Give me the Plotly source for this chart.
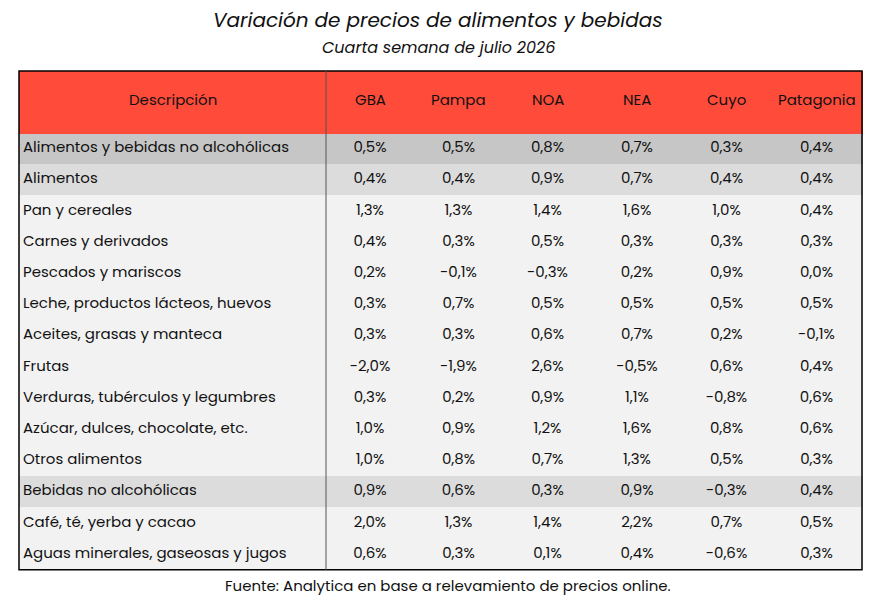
import plotly.graph_objects as go

columns = ["Descripción", "GBA", "Pampa", "NOA", "NEA", "Cuyo", "Patagonia"]
descripcion = ["Alimentos y bebidas no alcohólicas", "Alimentos", "Pan y cereales", "Carnes y derivados",
               "Pescados y mariscos", "Leche, productos lácteos, huevos", "Aceites, grasas y manteca", "Frutas",
               "Verduras, tubérculos y legumbres", "Azúcar, dulces, chocolate, etc.", "Otros alimentos",
               "Bebidas no alcohólicas", "Café, té, yerba y cacao", "Aguas minerales, gaseosas y jugos"]
gba = ["0,5%", "0,4%", "1,3%", "0,4%", "0,2%", "0,3%", "0,3%", "-2,0%", "0,3%", "1,0%", "1,0%", "0,9%", "2,0%", "0,6%"]
pampa = ["0,5%", "0,4%", "1,3%", "0,3%", "-0,1%", "0,7%", "0,3%", "-1,9%", "0,2%", "0,9%", "0,8%", "0,6%", "1,3%", "0,3%"]
noa = ["0,8%", "0,9%", "1,4%", "0,5%", "-0,3%", "0,5%", "0,6%", "2,6%", "0,9%", "1,2%", "0,7%", "0,3%", "1,4%", "0,1%"]
nea = ["0,7%", "0,7%", "1,6%", "0,3%", "0,2%", "0,5%", "0,7%", "-0,5%", "1,1%", "1,6%", "1,3%", "0,9%", "2,2%", "0,4%"]
cuyo = ["0,3%", "0,4%", "1,0%", "0,3%", "0,9%", "0,5%", "0,2%", "0,6%", "-0,8%", "0,8%", "0,5%", "-0,3%", "0,7%", "-0,6%"]
patagonia = ["0,4%", "0,4%", "0,4%", "0,3%", "0,0%", "0,5%", "-0,1%", "0,4%", "0,6%", "0,6%", "0,3%", "0,4%", "0,5%", "0,3%"]

OFF = 8
W, H = 876 - 2 * OFF, 604 - 2 * OFF
def px(x): return (x - OFF) / W
def py(y): return 1 - (y - OFF) / H

x0, x1 = 19, 862
y0 = 71
widths = [307, 88, 89, 89, 90, 89, 91]
colors = []
for d in descripcion:
    if d == "Alimentos y bebidas no alcohólicas":
        colors.append("#C6C6C6")
    elif d in ("Alimentos", "Bebidas no alcohólicas"):
        colors.append("#DCDCDC")
    else:
        colors.append("#F2F2F2")

font = "Poppins, Inter, sans-serif"
fig = go.Figure(go.Table(
    domain=dict(x=[px(x0 - 4), px(x1)], y=[0, py(y0)]),
    columnwidth=[widths[0] + 4] + widths[1:],
    header=dict(values=[""] * len(columns), fill_color="#FF4B3A", line=dict(color="#FF4B3A", width=1),
                height=62),
    cells=dict(values=[descripcion, gba, pampa, noa, nea, cuyo, patagonia],
               fill_color=[colors] * 7, line=dict(color=[colors] * 7, width=1),
               align=["left"] + ["center"] * 6, height=31.2,
               font=dict(family=font, size=15, color="#111")),
))
# cover the 4px overhang on the left with white
fig.add_shape(type="rect", xref="paper", yref="paper", x0=px(x0 - 5), x1=px(x0),
              y0=0, y1=py(y0 - 2), fillcolor="white", line=dict(width=0), layer="above")

def label(text, x, y, size):
    fig.add_annotation(text=text, x=px(x), y=py(y), xref="paper", yref="paper", xanchor="center",
                       yanchor="middle", showarrow=False, font=dict(family=font, size=size, color="#111"))

cx = x0
for c, w in zip(columns, widths):
    label(c, cx + w / 2, y0 + 29, 15)
    cx += w
bottom = y0 + 62 + 14 * 31.2
fig.add_shape(type="rect", xref="paper", yref="paper", x0=px(x0), x1=px(x1),
              y0=py(bottom), y1=py(y0), line=dict(color="black", width=1.5))
fig.add_shape(type="line", xref="paper", yref="paper", x0=px(326), x1=px(326),
              y0=py(bottom), y1=py(y0), line=dict(color="#555", width=1))
label("<i>Variación de precios de alimentos y bebidas</i>", 438, 20, 20)
label("<i>Cuarta semana de julio 2026</i>", 438, 48, 16)
label("Fuente: Analytica en base a relevamiento de precios online.", 448, 585, 15)
fig.update_layout(width=W, height=H, margin=dict(l=0, r=0, t=0, b=0), paper_bgcolor="white")
fig.write_html("out.html")
